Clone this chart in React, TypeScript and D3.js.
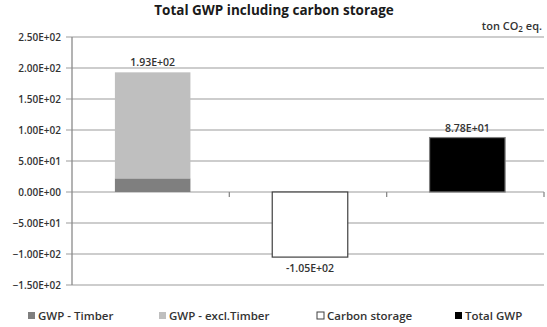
import React from "react";
import * as d3 from "d3";

const categories = ["GWP", "Carbon storage", "Total GWP"];
const timberValues = [22, 0, 0];
const exclTimberValues = [171, 0, 0];
const carbonStorageValues = [0, -105, 0];
const totalValues = [0, 0, 87.8];
const barLabels = ["1.93E+02", "-1.05E+02", "8.78E+01"];
const labelValues = [193, -105, 87.8];
const yTicks = [250, 200, 150, 100, 50, 0, -50, -100, -150];
const legendItems = ["GWP - Timber", "GWP - excl.Timber", "Carbon storage", "Total GWP"];

const W = 547;
const H = 327;
const left = 72;
const right = 544;
const top = 37;
const bottom = 285;

const fmt = (v: number) => {
  const s = d3.format(".2e")(v);
  const [m, e] = s.split("e");
  const sign = e[0] === "-" ? "-" : "+";
  const digits = e.replace(/[+-]/, "").padStart(2, "0");
  return `${m}E${sign}${digits}`;
};

export default function App() {
  const y = d3.scaleLinear().domain([-150, 250]).range([bottom, top]);
  const x = d3.scaleBand<string>().domain(categories).range([left, right]).padding(0);
  const bw = x.bandwidth() * 0.48;
  const cx = (c: string) => (x(c) as number) + x.bandwidth() / 2 + 2;
  const font = "'Open Sans', 'DejaVu Sans', sans-serif";
  const gridColor = "#bdbdbd";

  const legendX = [28, 159, 317, 455];
  const legendFill = ["#7f7f7f", "#bfbfbf", "#ffffff", "#000000"];
  const legendStroke = ["none", "none", "#404040", "none"];

  return (
    <svg width={W} height={H} style={{ position: "absolute", left: 0, top: 0, background: "#fff" }}>
      <rect x={0} y={0} width={W} height={H} fill="#fff" />
      <text x={274} y={14.5} textAnchor="middle" fontFamily={font} fontWeight={700} fontSize={13.5} fill="#1a1a1a">
        Total GWP including carbon storage
      </text>
      <text x={542} y={30} textAnchor="end" fontFamily={font} fontWeight={600} fontSize={11} fill="#333">
        ton CO<tspan fontSize={8} dy={2}>2</tspan><tspan dy={-2}> eq.</tspan>
      </text>

      {yTicks.map((t) => (
        <g key={t}>
          <line x1={left - 6} x2={right} y1={y(t)} y2={y(t)} stroke={gridColor} strokeWidth={1.3} />
          <text x={61} y={y(t) + 3.5} textAnchor="end" fontFamily={font} fontWeight={600} fontSize={10} fill="#333">
            {fmt(t)}
          </text>
        </g>
      ))}
      <line x1={left} x2={left} y1={top} y2={bottom} stroke="#8a8a8a" strokeWidth={1.3} />
      {categories.map((c) => (
        <line key={c} x1={(x(c) as number) + x.bandwidth()} x2={(x(c) as number) + x.bandwidth()} y1={y(0)} y2={y(0) + 5} stroke="#8a8a8a" strokeWidth={1.3} />
      ))}

      {categories.map((c, i) => {
        const x0 = cx(c) - bw / 2;
        return (
          <g key={c}>
            {timberValues[i] > 0 && (
              <rect x={x0} y={y(timberValues[i])} width={bw} height={y(0) - y(timberValues[i])} fill="#7f7f7f" />
            )}
            {exclTimberValues[i] > 0 && (
              <rect x={x0} y={y(timberValues[i] + exclTimberValues[i])} width={bw} height={y(timberValues[i]) - y(timberValues[i] + exclTimberValues[i])} fill="#bfbfbf" />
            )}
            {carbonStorageValues[i] < 0 && (
              <rect x={x0} y={y(0)} width={bw} height={y(carbonStorageValues[i]) - y(0)} fill="#fff" stroke="#404040" strokeWidth={1.2} />
            )}
            {totalValues[i] > 0 && (
              <rect x={x0} y={y(totalValues[i])} width={bw} height={y(0) - y(totalValues[i])} fill="#000" stroke="#7f7f7f" strokeWidth={1.2} />
            )}
            <text
              x={cx(c)}
              y={labelValues[i] >= 0 ? y(labelValues[i]) - 6 : y(labelValues[i]) + 15}
              textAnchor="middle"
              fontFamily={font}
              fontWeight={600}
              fontSize={10.5}
              fill="#333"
            >
              {barLabels[i]}
            </text>
          </g>
        );
      })}

      {legendItems.map((l, i) => (
        <g key={l}>
          <rect x={legendX[i]} y={312} width={7} height={7} fill={legendFill[i]} stroke={legendStroke[i]} strokeWidth={1} />
          <text x={legendX[i] + 10} y={320} fontFamily={font} fontWeight={600} fontSize={11.5} fill="#333">
            {l}
          </text>
        </g>
      ))}
    </svg>
  );
}
